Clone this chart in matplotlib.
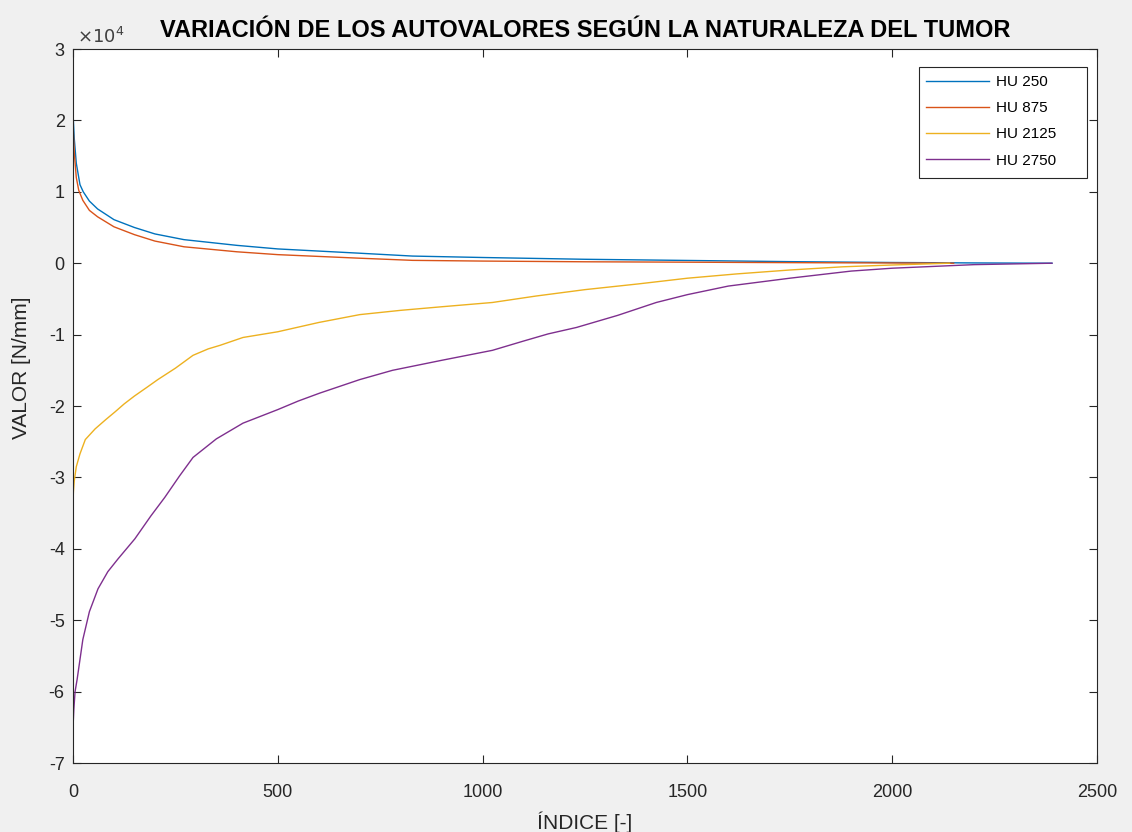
import matplotlib
matplotlib.use("Agg")
import matplotlib.pyplot as plt
from matplotlib.patches import Rectangle
from matplotlib.ticker import FuncFormatter

plt.rcParams["font.family"] = ["Liberation Sans", "DejaVu Sans"]
plt.rcParams["axes.unicode_minus"] = False

# ── Eigenvalues by tumour density (index, value in N/mm) ──────────────────────
hu250_x = [0, 3, 8, 17, 25, 40, 60, 100, 150, 200, 271, 400, 500, 700, 829,
           1000, 1250, 1480, 1750, 2000, 2200, 2390]
hu250_y = [21000, 17500, 14000, 11000, 10000, 8700, 7600, 6100, 5000, 4100,
           3300, 2500, 2000, 1400, 1000, 800, 550, 400, 220, 100, 40, 0]

hu875_x = [0, 3, 8, 14, 24, 40, 60, 100, 150, 200, 271, 400, 500, 700, 829,
           1000, 1250, 1480, 1750, 2000, 2150]
hu875_y = [19500, 15500, 12000, 10200, 8800, 7400, 6500, 5100, 4000, 3100,
           2300, 1600, 1200, 700, 400, 300, 200, 150, 80, 30, 0]

hu2125_x = [0, 1, 3, 8, 17, 30, 54, 80, 103, 125, 150, 180, 207, 250, 293,
            330, 359, 415, 500, 600, 700, 800, 900, 1024, 1130, 1250, 1380,
            1500, 1620, 1750, 1880, 2000, 2140]
hu2125_y = [-33500, -32000, -30500, -28500, -26700, -24700, -23200, -21900,
            -20800, -19700, -18600, -17400, -16300, -14700, -12900, -12000,
            -11500, -10400, -9600, -8300, -7200, -6600, -6100, -5500, -4600,
            -3700, -2900, -2100, -1500, -950, -500, -250, 0]

hu2750_x = [0, 2, 5, 10, 24, 40, 61, 85, 110, 151, 190, 224, 260, 293, 350,
            415, 500, 550, 602, 700, 780, 900, 1024, 1100, 1160, 1229, 1330,
            1424, 1500, 1600, 1750, 1900, 2000, 2200, 2390]
hu2750_y = [-65000, -62500, -60000, -58300, -52700, -48800, -45600, -43200,
            -41400, -38600, -35400, -32800, -29800, -27200, -24600, -22400,
            -20500, -19300, -18200, -16300, -15000, -13600, -12200, -10900,
            -9900, -9000, -7300, -5500, -4400, -3200, -2100, -1100, -700,
            -200, 0]

series = [
    ("HU 250", hu250_x, hu250_y, "#0072BD"),
    ("HU 875", hu875_x, hu875_y, "#D95319"),
    ("HU 2125", hu2125_x, hu2125_y, "#EDB120"),
    ("HU 2750", hu2750_x, hu2750_y, "#7E2F8E"),
]

# ── Figure ────────────────────────────────────────────────────────────────────
fig = plt.figure(figsize=(11.32, 8.32), dpi=100, facecolor="#F0F0F0")
ax = fig.add_axes([0.0645, 0.0829, 0.9046, 0.8582])

for label, xs, ys, color in series:
    ax.plot(xs, ys, color=color, linewidth=1.0, label=label)

ax.set_xlim(0, 2500)
ax.set_ylim(-70000, 30000)
ax.set_xticks(range(0, 2501, 500))
ax.set_yticks(range(-70000, 30001, 10000))
ax.yaxis.set_major_formatter(FuncFormatter(lambda v, p: f"{v / 1e4:g}"))
ax.text(0.004, 1.008, r"$\times10^{4}$", transform=ax.transAxes,
        fontsize=13, color="#404040", ha="left", va="baseline")

ax.tick_params(direction="in", top=True, right=True, length=6, width=0.8,
               labelsize=13, colors="#262626")
ax.tick_params(axis="x", pad=15)
ax.tick_params(axis="y", pad=6)
for sp in ax.spines.values():
    sp.set_color("#262626")
    sp.set_linewidth(0.8)

ax.set_title("VARIACIÓN DE LOS AUTOVALORES SEGÚN LA NATURALEZA DEL TUMOR",
             fontsize=17, fontweight="bold", pad=9)
ax.set_xlabel("ÍNDICE [-]", fontsize=15, color="#262626", labelpad=8)
ax.set_ylabel("VALOR [N/mm]", fontsize=15, color="#262626")
ax.yaxis.set_label_coords(-0.041, 0.553)

# legend box (MATLAB style, wider than its entries)
ax.add_patch(Rectangle((0.8262, 0.8193), 0.1640, 0.1555, transform=ax.transAxes,
                       facecolor="white", edgecolor="#262626", linewidth=0.8,
                       zorder=4))
leg = ax.legend(loc="upper left", fontsize=11, frameon=False,
                handlelength=4.1, handletextpad=0.5, borderpad=0,
                labelspacing=0.8, borderaxespad=0,
                bbox_to_anchor=(0.833, 0.9636))
leg.set_zorder(5)

fig.savefig("out.png", dpi=100, facecolor=fig.get_facecolor())
